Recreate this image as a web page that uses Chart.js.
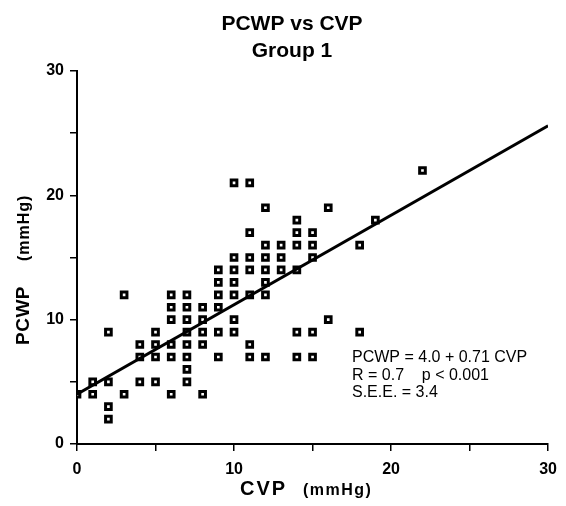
<!DOCTYPE html>
<html>
<head>
<meta charset="utf-8">
<script src="https://cdn.jsdelivr.net/npm/chart.js@4"></script>
<style>
  html, body { margin: 0; padding: 0; background: #fff; }
  canvas { display: block; }
</style>
</head>
<body>
<canvas id="chart" width="566" height="506"></canvas>
<script>
// CVP (x) and PCWP (y) for each patient
const cvp = [0, 1, 1, 2, 2, 2, 2, 3, 3, 4, 4, 4, 5, 5, 5, 5,
  6, 6, 6, 6, 6, 6, 7, 7, 7, 7, 7, 7, 7, 7, 8, 8, 8, 8, 8,
  9, 9, 9, 9, 9, 9, 10, 10, 10, 10, 10, 10, 10,
  11, 11, 11, 11, 11, 11, 11, 12, 12, 12, 12, 12, 12, 12,
  13, 13, 13, 14, 14, 14, 14, 14, 14, 15, 15, 15, 15, 15,
  16, 16, 18, 18, 19, 22];
const pcwp = [4, 4, 5, 2, 3, 5, 9, 4, 12, 5, 7, 8, 5, 7, 8, 9,
  4, 7, 8, 10, 11, 12, 5, 6, 7, 8, 9, 10, 11, 12, 4, 8, 9, 10, 11,
  7, 9, 11, 12, 13, 14, 9, 10, 12, 13, 14, 15, 21,
  7, 8, 12, 14, 15, 17, 21, 7, 12, 13, 14, 15, 16, 19,
  14, 15, 16, 7, 9, 14, 16, 17, 18, 7, 9, 15, 16, 17,
  10, 19, 9, 16, 18, 22];

// regression line ends as drawn
const fitX = [0, 30];
const fitY = [4.0, 25.6];

const xTicks = [0, 10, 20, 30];
const yTicks = [0, 10, 20, 30];

const titleLines = ['PCWP vs CVP', 'Group 1'];
const statsLines = ['PCWP = 4.0 + 0.71 CVP', 'R = 0.7    p < 0.001', 'S.E.E. = 3.4'];

const FONT = '"Liberation Sans", Arial, Helvetica, sans-serif';

const points = cvp.map((x, i) => ({ x: x, y: pcwp[i] }));
const fitLine = fitX.map((x, i) => ({ x: x, y: fitY[i] }));

// titles, axis titles and the stats box are drawn by hand so the fonts can be mixed
const textPlugin = {
  id: 'textPlugin',
  afterDraw(chart) {
    const ctx = chart.ctx;
    ctx.save();
    ctx.fillStyle = '#000';
    ctx.textAlign = 'center';
    ctx.textBaseline = 'alphabetic';

    ctx.font = 'bold 21px ' + FONT;
    ctx.fillText(titleLines[0], 292, 30);
    ctx.fillText(titleLines[1], 292, 57);

    // x axis title
    ctx.textAlign = 'left';
    ctx.letterSpacing = '2px';
    ctx.font = 'bold 20px ' + FONT;
    ctx.fillText('CVP', 240, 495);
    ctx.letterSpacing = '1.5px';
    ctx.font = 'bold 16px ' + FONT;
    ctx.fillText('(mmHg)', 303, 495);

    // y axis title
    ctx.save();
    ctx.translate(29, 345);
    ctx.rotate(-Math.PI / 2);
    ctx.letterSpacing = '0.5px';
    ctx.font = 'bold 19px ' + FONT;
    ctx.fillText('PCWP', 0, 0);
    ctx.letterSpacing = '1px';
    ctx.font = 'bold 16px ' + FONT;
    ctx.fillText('(mmHg)', 84, 0);
    ctx.restore();

    ctx.letterSpacing = '0px';
    ctx.font = '16px ' + FONT;
    statsLines.forEach((line, i) => {
      ctx.fillText(line, 352, 362 + i * 17.5);
    });
    ctx.restore();
  }
};

const ctx = document.getElementById('chart').getContext('2d');
const chart = new Chart(ctx, {
  type: 'scatter',
  data: {
    datasets: [{
      type: 'line',
      data: fitLine,
      borderColor: '#000',
      borderWidth: 3,
      pointRadius: 0,
      fill: false,
      order: 0
    }, {
      data: points,
      pointStyle: 'rect',
      pointRadius: 4,
      borderWidth: 3,
      borderColor: '#000',
      backgroundColor: '#fff',
      order: 1
    }]
  },
  options: {
    responsive: false,
    animation: false,
    events: [],
    layout: {
      padding: { top: 71, right: 16, left: 0, bottom: 0 }
    },
    plugins: {
      legend: { display: false },
      tooltip: { enabled: false },
      title: { display: false }
    },
    scales: {
      x: {
        type: 'linear',
        min: 0,
        max: 30,
        afterFit: function(scale) { scale.height = 62; },
        ticks: {
          stepSize: 5,
          color: '#000',
          padding: 9,
          maxRotation: 0,
          font: { family: FONT, size: 16, weight: 'bold' },
          callback: function(value) { return xTicks.includes(value) ? String(value) : ''; }
        },
        grid: {
          drawOnChartArea: false,
          drawTicks: true,
          tickLength: 7,
          color: '#000',
          lineWidth: 1.5
        },
        border: { display: true, color: '#000', width: 2 }
      },
      y: {
        type: 'linear',
        min: 0,
        max: 30,
        afterFit: function(scale) { scale.width = 77; },
        ticks: {
          stepSize: 5,
          color: '#000',
          padding: 6,
          font: { family: FONT, size: 16, weight: 'bold' },
          callback: function(value) { return yTicks.includes(value) ? String(value) : ''; }
        },
        grid: {
          drawOnChartArea: false,
          drawTicks: true,
          tickLength: 7,
          color: '#000',
          lineWidth: 1.5
        },
        border: { display: true, color: '#000', width: 2 }
      }
    }
  },
  plugins: [textPlugin]
});
</script>
</body>
</html>
